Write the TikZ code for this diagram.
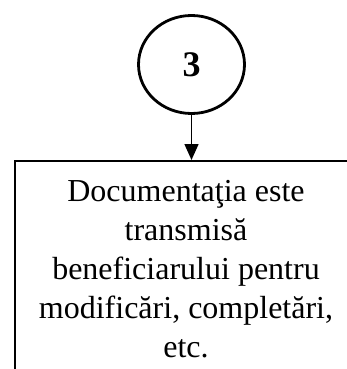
\documentclass[tikz,border=0pt]{standalone}
\usepackage{fontspec}
\setmainfont{Liberation Serif}
\usetikzlibrary{shapes.geometric,arrows.meta}
\begin{document}
\begin{tikzpicture}[x=1pt,y=1pt,
  stepcircle/.style={draw,ellipse,line width=2.8pt,minimum width=106pt,minimum height=98pt,inner sep=0pt,font=\fontsize{36}{40}\selectfont\bfseries},
  openbox/.style={draw,line width=2pt,rectangle,minimum width=420pt,minimum height=300pt,anchor=north west,inner sep=0pt},
  boxtext/.style={align=center,font=\fontsize{32}{39}\selectfont,inner sep=0pt},
  flow/.style={line width=1.5pt,-{Triangle[length=16pt,width=14pt]}}]
\useasboundingbox (0,0) rectangle (347,-369);
\clip (0,0) rectangle (347,-369);
\node[stepcircle] (c) at (191.5,-64.5) {3};
\node[openbox] (box) at (14,-160) {};
\node[boxtext,anchor=base] (t) at (186,-357) {Documentaţia este\\transmisă\\beneficiarului pentru\\modificări, completări,\\etc.};
\draw[flow] (c.south) -- (c.south |- box.north);
\end{tikzpicture}
\end{document}
